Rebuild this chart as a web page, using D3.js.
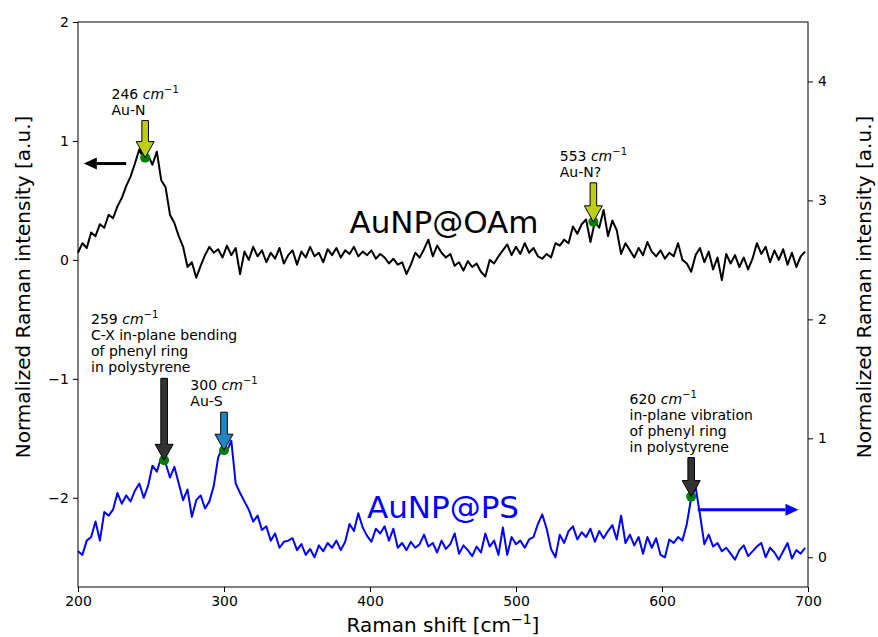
<!DOCTYPE html>
<html>
<head>
<meta charset="utf-8">
<script src="https://cdn.jsdelivr.net/npm/d3@7"></script>
<style>
  body { margin: 0; background: #fff; }
  text { font-family: "DejaVu Sans", sans-serif; }
</style>
</head>
<body>
<script>
// Raman spectra, sampled every 3 cm-1 from 200 to 698
const shiftStart = 200;
const shiftStep = 3;

// AuNP@OAm, left axis
const oamValues = [
  0.06, 0.14, 0.10, 0.23, 0.20, 0.30, 0.27, 0.38, 0.35, 0.45,   // 200
  0.52, 0.62, 0.70, 0.81, 0.93, 0.85, 0.88, 0.80, 0.91, 0.67,   // 230
  0.61, 0.38, 0.31, 0.20, 0.11, -0.06, -0.02, -0.15, -0.05, 0.04, // 260
  0.11, 0.06, 0.09, 0.02, 0.12, 0.04, 0.10, -0.12, 0.07, 0.00,  // 290
  0.11, 0.03, 0.08, -0.02, 0.06, 0.01, 0.10, -0.03, 0.04, 0.08, // 320
  -0.04, 0.07, 0.02, 0.11, 0.03, 0.06, -0.02, 0.09, 0.04, 0.10, // 350
  0.02, 0.08, 0.05, 0.11, 0.03, 0.07, 0.04, 0.08, 0.01, 0.05,   // 380
  0.02, -0.03, 0.01, -0.04, -0.02, -0.12, -0.04, 0.06, 0.02, 0.09, // 410
  0.17, 0.03, 0.12, 0.06, 0.02, 0.05, -0.05, -0.02, -0.09, -0.01, // 440
  -0.06, -0.03, -0.10, -0.14, 0.00, -0.03, 0.03, 0.08, 0.13, 0.04, // 470
  0.11, 0.05, 0.14, 0.06, 0.10, 0.03, 0.01, 0.05, 0.02, 0.14,   // 500
  0.12, 0.17, 0.14, 0.28, 0.22, 0.30, 0.34, 0.15, 0.32, 0.27,   // 530
  0.42, 0.20, 0.33, 0.25, 0.05, 0.14, 0.08, 0.02, 0.10, 0.04,   // 560
  0.15, 0.07, 0.03, 0.08, 0.01, 0.06, 0.03, 0.14, 0.00, -0.03,  // 590
  -0.10, 0.04, 0.10, -0.02, 0.07, -0.08, 0.02, -0.17, 0.05, -0.03, // 620
  0.04, -0.06, 0.02, -0.08, 0.01, 0.14, 0.05, 0.11, -0.02, 0.08, // 650
  0.00, 0.09, -0.04, 0.06, -0.06, 0.03, 0.07                    // 680
];

// AuNP@PS, right axis
const psValues = [
  0.05, 0.02, 0.14, 0.17, 0.30, 0.14, 0.38, 0.35, 0.40, 0.54,   // 200
  0.45, 0.52, 0.47, 0.56, 0.62, 0.50, 0.60, 0.77, 0.72, 0.84,   // 230
  0.79, 0.67, 0.76, 0.62, 0.48, 0.57, 0.34, 0.48, 0.52, 0.41,   // 260
  0.47, 0.60, 0.84, 0.92, 0.89, 0.98, 0.62, 0.54, 0.47, 0.40,   // 290
  0.30, 0.35, 0.23, 0.26, 0.14, 0.20, 0.08, 0.13, 0.14, 0.16,   // 320
  0.06, 0.11, 0.02, 0.07, 0.00, 0.10, 0.05, 0.12, 0.08, 0.14,   // 350
  0.06, 0.13, 0.28, 0.22, 0.37, 0.25, 0.18, 0.13, 0.24, 0.20,   // 380
  0.26, 0.14, 0.24, 0.08, 0.12, 0.06, 0.13, 0.08, 0.11, 0.19,   // 410
  0.09, 0.12, 0.04, 0.14, 0.07, 0.11, 0.20, 0.03, 0.10, 0.06,   // 440
  0.01, 0.09, 0.04, 0.20, 0.09, 0.14, 0.02, 0.25, 0.02, 0.17,   // 470
  0.11, 0.14, 0.08, 0.15, 0.17, 0.28, 0.36, 0.24, 0.07, 0.00,   // 500
  0.19, 0.12, 0.22, 0.26, 0.15, 0.21, 0.17, 0.24, 0.13, 0.22,   // 530
  0.16, 0.22, 0.27, 0.15, 0.35, 0.12, 0.19, 0.10, 0.17, 0.03,   // 560
  0.17, 0.08, 0.16, 0.02, 0.00, 0.15, 0.12, 0.17, 0.14, 0.28,   // 590
  0.50, 0.59, 0.36, 0.11, 0.19, 0.09, 0.12, 0.05, 0.08, 0.03,   // 620
  -0.02, 0.06, 0.10, 0.01, 0.05, 0.09, 0.12, 0.00, 0.08, 0.04,  // 650
  -0.02, 0.05, 0.12, -0.01, 0.06, 0.03, 0.08                    // 680
];

const xTicks = [200, 300, 400, 500, 600, 700];
const leftTicks = [-2, -1, 0, 1, 2];
const rightTicks = [0, 1, 2, 3, 4];

// marked peaks
const peakShift = [246, 553, 259, 300, 620];
const peakValue = [0.86, 0.32, 0.815, 0.90, 0.51];
const peakAxis = ["left", "left", "right", "right", "right"];
const peakNotes = [
  ["Au-N"],
  ["Au-N?"],
  ["C-X in-plane bending", "of phenyl ring", "in polystyrene"],
  ["Au-S"],
  ["in-plane vibration", "of phenyl ring", "in polystyrene"]
];
const peakColor = ["#bccf16", "#bccf16", "#333333", "#1f86c4", "#333333"];
const arrowLen = [37, 39, 82, 38, 39];

// axis pointer arrows: [from shift, to shift, value]
const oamPointer = [233, 204, 0.81];
const psPointer = [624.5, 693.5, 0.40];

const W = 878, H = 637;
const M = { left: 78, right: 70, top: 22, bottom: 50 };

const svg = d3.select("body").append("svg")
  .attr("width", W).attr("height", H);

const x = d3.scaleLinear().domain([200, 700]).range([M.left, W - M.right]);
const yL = d3.scaleLinear().domain([-2.75, 2]).range([H - M.bottom, M.top]);
const yR = d3.scaleLinear().domain([-0.25, 4.5]).range([H - M.bottom, M.top]);
const shiftAt = i => shiftStart + i * shiftStep;
const fmt = d3.format("d");

// spectra
const line = (yScale) => d3.line()
  .x((d, i) => x(shiftAt(i)))
  .y(d => yScale(d));

svg.append("path")
  .attr("d", line(yL)(oamValues))
  .attr("fill", "none").attr("stroke", "#000").attr("stroke-width", 2)
  .attr("stroke-linejoin", "round");

svg.append("path")
  .attr("d", line(yR)(psValues))
  .attr("fill", "none").attr("stroke", "#0000ff").attr("stroke-width", 2)
  .attr("stroke-linejoin", "round");

// axes
function styleAxis(g) {
  g.select(".domain").remove();
  g.selectAll(".tick line").attr("stroke", "#000").attr("stroke-width", 1);
  g.selectAll(".tick text").attr("fill", "#000")
    .style("font-family", "DejaVu Sans").style("font-size", "14px");
}

svg.append("g")
  .attr("transform", `translate(0,${H - M.bottom})`)
  .call(d3.axisBottom(x).tickValues(xTicks).tickFormat(fmt).tickSize(5).tickPadding(4))
  .call(styleAxis);

svg.append("g")
  .attr("transform", `translate(${M.left},0)`)
  .call(d3.axisLeft(yL).tickValues(leftTicks).tickFormat(fmt).tickSize(5).tickPadding(4))
  .call(styleAxis);

svg.append("g")
  .attr("transform", `translate(${W - M.right},0)`)
  .call(d3.axisRight(yR).tickValues(rightTicks).tickFormat(fmt).tickSize(5).tickPadding(5))
  .call(styleAxis);

svg.append("rect")
  .attr("x", M.left).attr("y", M.top)
  .attr("width", W - M.left - M.right).attr("height", H - M.top - M.bottom)
  .attr("fill", "none").attr("stroke", "#000").attr("stroke-width", 1);

// axis labels
svg.append("text")
  .attr("transform", `translate(30,${287}) rotate(-90)`)
  .attr("text-anchor", "middle").style("font-size", "20px")
  .text("Normalized Raman intensity [a.u.]");

svg.append("text")
  .attr("transform", `translate(871,${287}) rotate(-90)`)
  .attr("text-anchor", "middle").style("font-size", "20px")
  .text("Normalized Raman intensity [a.u.]");

const xl = svg.append("text")
  .attr("x", (M.left + W - M.right) / 2).attr("y", 632)
  .attr("text-anchor", "middle").style("font-size", "20px");
xl.append("tspan").text("Raman shift [cm");
xl.append("tspan").attr("dy", -8).style("font-size", "14px").text("\u22121");
xl.append("tspan").attr("dy", 8).text("]");

// sample names
svg.append("text")
  .attr("x", 444).attr("y", 233).attr("text-anchor", "middle")
  .style("font-size", "31px").attr("fill", "#000").text("AuNP@OAm");
svg.append("text")
  .attr("x", 443).attr("y", 518).attr("text-anchor", "middle")
  .style("font-size", "31px").attr("fill", "#0000ff").text("AuNP@PS");

// peak dots
peakShift.forEach((s, i) => {
  const ys = peakAxis[i] === "left" ? yL : yR;
  svg.append("circle")
    .attr("cx", x(s)).attr("cy", ys(peakValue[i])).attr("r", 5)
    .attr("fill", "#008000");
});

// down arrows + notes
function blockArrow(cx, top, tip, color) {
  const sw = 3.3, hw = 9, hl = 16;
  const pts = [
    [cx - sw, top], [cx + sw, top], [cx + sw, tip - hl], [cx + hw, tip - hl],
    [cx, tip], [cx - hw, tip - hl], [cx - sw, tip - hl]
  ];
  svg.append("path")
    .attr("d", "M" + pts.map(p => p.join(",")).join("L") + "Z")
    .attr("fill", color).attr("stroke", "#000").attr("stroke-width", 1);
}

peakShift.forEach((s, i) => {
  const ys = peakAxis[i] === "left" ? yL : yR;
  const cx = x(s);
  const tip = ys(peakValue[i]);
  const top = tip - arrowLen[i];
  blockArrow(cx, top, tip, peakColor[i]);

  const lines = [null].concat(peakNotes[i]);
  const n = lines.length;
  const g = svg.append("g");
  const texts = lines.map((ln, k) => {
    const t = g.append("text")
      .attr("y", top - 6 - (n - 1 - k) * 16)
      .style("font-size", "14px").attr("fill", "#000");
    if (ln === null) {
      t.append("tspan").text(s + " ");
      t.append("tspan").style("font-style", "italic").text("cm");
      t.append("tspan").attr("dy", -6).style("font-size", "10px").text("\u22121");
    } else {
      t.text(ln);
    }
    return t;
  });
  const maxW = d3.max(texts, t => t.node().getComputedTextLength());
  texts.forEach(t => t.attr("x", cx - maxW / 2));
});

// pointers to the axes
function pointer(p, ys, color) {
  const x0 = x(p[0]), x1 = x(p[1]), yy = ys(p[2]);
  const dir = Math.sign(x1 - x0);
  const hl = 13, hw = 6;
  svg.append("line")
    .attr("x1", x0).attr("x2", x1 - dir * hl).attr("y1", yy).attr("y2", yy)
    .attr("stroke", color).attr("stroke-width", 3);
  svg.append("path")
    .attr("d", `M${x1},${yy}L${x1 - dir * hl},${yy - hw}L${x1 - dir * hl},${yy + hw}Z`)
    .attr("fill", color);
}
pointer(oamPointer, yL, "#000");
pointer(psPointer, yR, "#0000ff");
</script>
</body>
</html>
